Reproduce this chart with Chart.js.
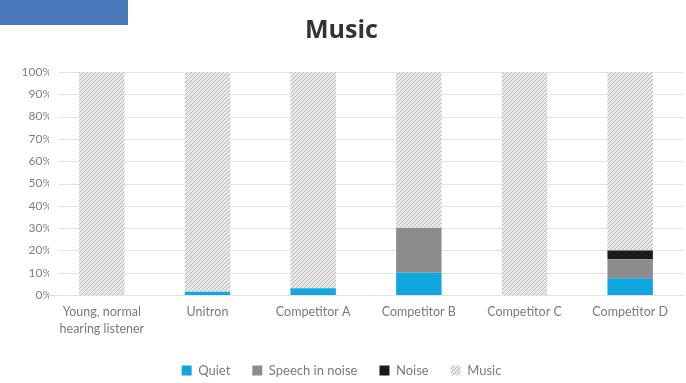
<!DOCTYPE html>
<html>
<head>
<meta charset="utf-8">
<script src="https://cdn.jsdelivr.net/npm/chart.js@4"></script>
<style>
    html, body { margin: 0; padding: 0; background: #fff; }
    #wrap { position: relative; width: 686px; height: 383px; }
    #tab { position: absolute; left: 0; top: 0; width: 128px; height: 25px; background: #4a79b9; }
</style>
</head>
<body>
<div id="wrap">
    <canvas id="musicChart" width="686" height="383"></canvas>
    <div id="tab"></div>
</div>
<script>
const categories = [['Young, normal', 'hearing listener'], 'Unitron', 'Competitor A', 'Competitor B', 'Competitor C', 'Competitor D'];
const quiet = [0, 1.5, 3, 10, 0, 7.5];
const speechInNoise = [0, 0, 0, 20, 0, 8.5];
const noise = [0, 0, 0, 0, 0, 4];
const music = categories.map((c, i) => 100 - quiet[i] - speechInNoise[i] - noise[i]);
const tickLabels = ['0%', '10%', '20%', '30%', '40%', '50%', '60%', '70%', '80%', '90%', '100%'];

// fine diagonal hatch for the music segments
function makeHatch() {
    const c = document.createElement('canvas');
    c.width = 4;
    c.height = 4;
    const ctx = c.getContext('2d');
    ctx.fillStyle = '#e9e9e9';
    ctx.fillRect(0, 0, 4, 4);
    ctx.strokeStyle = '#b9b9b9';
    ctx.lineWidth = 1;
    ctx.beginPath();
    ctx.moveTo(0, 4); ctx.lineTo(4, 0);
    ctx.moveTo(-2, 2); ctx.lineTo(2, -2);
    ctx.moveTo(2, 6); ctx.lineTo(6, 2);
    ctx.stroke();
    return ctx.createPattern(c, 'repeat');
}
const hatch = makeHatch();

const data = {
    labels: categories,
    datasets: [
        {label: 'Quiet', data: quiet, backgroundColor: '#12a6e0'},
        {label: 'Speech in noise', data: speechInNoise, backgroundColor: '#8c8c8c'},
        {label: 'Noise', data: noise, backgroundColor: '#1a1a1a'},
        {label: 'Music', data: music, backgroundColor: hatch},
    ]
};

// pull the legend down closer to the bottom edge
const legendShift = {
    id: 'legendShift',
    beforeInit(chart) {
        const fitValue = chart.legend.fit;
        chart.legend.fit = function fit() {
            fitValue.bind(chart.legend)();
            return this.height -= 4;
        }
    }
};

// horizontal gridlines that start a little right of the tick labels
const gridLines = {
    id: 'gridLines',
    beforeDatasetsDraw(chart) {
        const {ctx, chartArea, scales: {y}} = chart;
        ctx.save();
        ctx.strokeStyle = '#e3e3e3';
        ctx.lineWidth = 1;
        y.ticks.forEach(t => {
            const py = Math.round(y.getPixelForValue(t.value)) + 0.5;
            ctx.beginPath();
            ctx.moveTo(chartArea.left + 9, py);
            ctx.lineTo(chartArea.right, py);
            ctx.stroke();
        });
        ctx.restore();
    }
};

const config = {
    type: 'bar',
    data: data,
    options: {
        responsive: false,
        animation: false,
        layout: {padding: {left: 0, right: 3, top: 0, bottom: 0}},
        datasets: {
            bar: {categoryPercentage: 1, barPercentage: 0.43}
        },
        scales: {
            x: {
                stacked: true,
                grid: {display: false},
                border: {display: true, color: '#d9d9d9'},
                afterFit(scale) {
                    scale.height = 47;
                },
                ticks: {
                    color: '#7a7a7a',
                    font: {size: 12.5, family: 'Lato', lineHeight: 1.4},
                    maxRotation: 0,
                    padding: 0
                }
            },
            y: {
                stacked: true,
                min: 0,
                max: 100,
                grid: {display: false},
                border: {display: false},
                afterFit(scale) {
                    scale.width = 49;
                },
                ticks: {
                    stepSize: 10,
                    color: '#7f7f7f',
                    padding: -11,
                    font: {size: 12, family: 'Lato'},
                    callback: (v, i) => tickLabels[i]
                }
            }
        },
        plugins: {
            title: {
                display: true,
                text: 'Music',
                color: '#333333',
                font: {size: 25, family: 'Open Sans', weight: 'bold'},
                padding: {top: 16, bottom: 26}
            },
            legend: {
                position: 'bottom',
                labels: {
                    boxWidth: 10,
                    boxHeight: 10,
                    padding: 22,
                    color: '#7a7a7a',
                    font: {size: 13, family: 'Lato'}
                }
            },
            tooltip: {enabled: false}
        }
    },
    plugins: [legendShift, gridLines],
};

new Chart(document.getElementById('musicChart'), config);
</script>
</body>
</html>
